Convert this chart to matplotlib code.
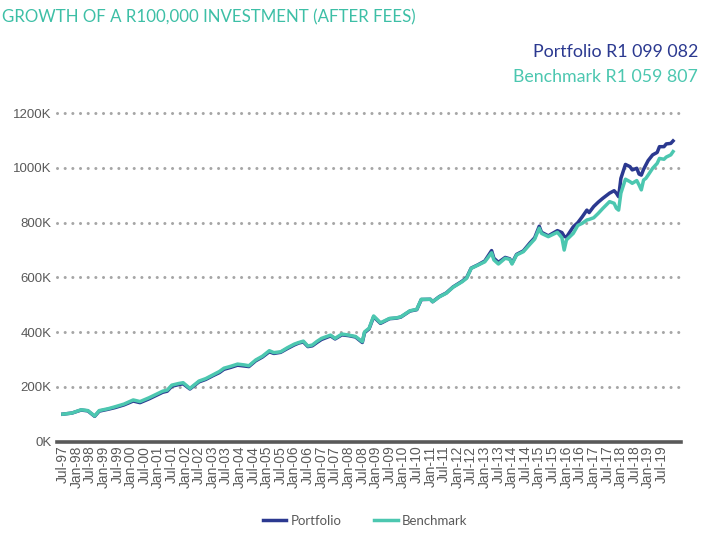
import numpy as np
import pandas as pd
import matplotlib
matplotlib.use("Agg")
import matplotlib.pyplot as plt
from matplotlib.lines import Line2D

# month-end values, thousands of rand
dates = ["1997-07", "1997-11", "1998-03", "1998-06", "1998-09", "1998-11", "1999-03", "1999-06",
         "1999-10", "2000-02", "2000-05", "2000-09", "2000-12", "2001-03", "2001-05", "2001-07",
         "2001-10", "2001-12", "2002-03", "2002-07", "2002-10", "2003-01", "2003-04", "2003-06",
         "2003-09", "2003-12", "2004-03", "2004-05", "2004-08", "2004-11", "2005-02", "2005-04",
         "2005-07", "2005-10", "2006-01", "2006-03", "2006-05", "2006-07", "2006-09", "2006-11",
         "2007-01", "2007-05", "2007-07", "2007-10", "2008-01", "2008-04", "2008-07", "2008-08",
         "2008-10", "2008-12", "2009-03", "2009-04", "2009-07", "2009-10", "2009-12", "2010-04",
         "2010-07", "2010-09", "2011-01", "2011-02", "2011-05", "2011-08", "2011-11", "2012-03",
         "2012-05", "2012-07", "2012-10", "2013-01", "2013-04", "2013-05", "2013-07", "2013-10",
         "2013-12", "2014-01", "2014-03", "2014-06", "2014-09", "2014-11", "2015-01", "2015-02",
         "2015-05", "2015-09", "2015-11", "2015-12", "2016-01", "2016-04", "2016-06", "2016-08",
         "2016-10", "2016-11", "2017-01", "2017-03", "2017-05", "2017-08", "2017-10", "2017-11",
         "2017-12", "2018-01", "2018-03", "2018-05", "2018-06", "2018-08", "2018-09", "2018-10",
         "2018-11", "2018-12", "2019-01", "2019-03", "2019-05", "2019-06", "2019-08", "2019-09",
         "2019-11", "2019-12"]

benchmark = [100, 104, 116, 113, 93, 113, 120, 127,
             137, 152, 146, 160, 172, 184, 188, 206,
             212, 215, 194, 221, 230, 243, 256, 268,
             275, 283, 280, 277, 298, 312, 332, 325,
             328, 343, 356, 362, 367, 349, 353, 366,
             377, 389, 377, 393, 389, 384, 365, 401,
             414, 459, 434, 438, 450, 452, 456, 478,
             483, 520, 520, 511, 529, 542, 564, 584,
             597, 633, 645, 657, 690, 664, 649, 670,
             666, 649, 682, 694, 722, 740, 780, 761,
             749, 765, 745, 700, 737, 761, 790, 798,
             810, 812, 818, 834, 852, 877, 871, 853,
             846, 908, 959, 950, 944, 954, 938, 920,
             956, 962, 974, 999, 1017, 1035, 1032, 1040,
             1048, 1060]

portfolio = [100, 104, 115, 112, 92, 111, 118, 124,
             134, 148, 142, 156, 168, 180, 184, 202,
             208, 211, 192, 218, 227, 240, 252, 264,
             271, 279, 276, 274, 295, 309, 328, 322,
             326, 340, 353, 360, 364, 347, 350, 362,
             373, 386, 375, 390, 387, 382, 362, 398,
             412, 456, 432, 436, 449, 451, 455, 477,
             482, 519, 520, 511, 530, 543, 565, 586,
             599, 634, 646, 660, 698, 670, 655, 673,
             668, 652, 684, 697, 727, 745, 787, 765,
             752, 771, 764, 750, 747, 785, 800, 822,
             846, 837, 859, 875, 889, 908, 917, 908,
             895, 962, 1013, 1005, 993, 999, 978, 974,
             995, 1011, 1027, 1048, 1057, 1078, 1078, 1088,
             1090, 1099]

start = pd.Period("1997-07", freq="M")
end = pd.Period("2019-12", freq="M")
all_months = pd.period_range(start, end, freq="M")
x = np.array([(pd.Period(d, freq="M") - start).n for d in dates])

BLUE = "#2b3990"
TEAL = "#4cc7b0"
GREY = "#595959"

fig = plt.figure(figsize=(7.01, 5.33), dpi=100)
ax = fig.add_axes([57 / 701, (533 - 441.5) / 533, 624 / 701, 328.2 / 533])

# dotted gridlines
for v in range(200, 1201, 200):
    ax.axhline(v, color="#a6a6a6", lw=2.2, ls=(0, (0.01, 2.5)),
               dash_capstyle="round", clip_on=False, zorder=1)
ax.axhline(0, color=GREY, lw=2.6, clip_on=False, zorder=1)

ax.plot(x, portfolio, color=BLUE, lw=2.5, zorder=3, solid_joinstyle="round")
ax.plot(x, benchmark, color=TEAL, lw=2.5, zorder=4, solid_joinstyle="round")

ax.set_xlim(-2.6, 272.5)
ax.set_ylim(0, 1200)
for s in ax.spines.values():
    s.set_visible(False)

ticks = np.arange(0, len(all_months), 6)
ax.set_xticks(ticks)
ax.set_xticklabels([all_months[i].strftime("%b-%y") for i in ticks], rotation=90,
                   fontsize=10, color=GREY, family="Liberation Sans")
ax.set_yticks(range(0, 1201, 200))
ax.set_yticklabels([f"{v}K" for v in range(0, 1201, 200)], fontsize=9.5, color=GREY,
                   family="Liberation Sans")
ax.tick_params(length=0, pad=4)
ax.tick_params(axis="x", pad=3)

fig.text(2 / 701, 1 - 17 / 533, "GROWTH OF A R100,000 INVESTMENT (AFTER FEES)", color="#3dbfa6",
         fontsize=12.2, family="Lato", va="center", ha="left")
fig.text(698 / 701, 1 - 52 / 533, "Portfolio R1 099 082", color=BLUE, fontsize=12.8,
         family="Lato", ha="right", va="center")
fig.text(698 / 701, 1 - 77 / 533, "Benchmark R1 059 807", color=TEAL, fontsize=12.8,
         family="Lato", ha="right", va="center")

handles = [Line2D([], [], color=BLUE, lw=2.5), Line2D([], [], color=TEAL, lw=2.5)]
fig.legend(handles, ["Portfolio", "Benchmark"], loc="center", bbox_to_anchor=(365 / 701, 1 - 521 / 533),
           ncol=2, frameon=False, labelcolor=GREY, handlelength=1.8,
           handletextpad=0.3, columnspacing=2.5, prop={"family": "Lato", "size": 9.5})

fig.savefig("out.png", dpi=100)
